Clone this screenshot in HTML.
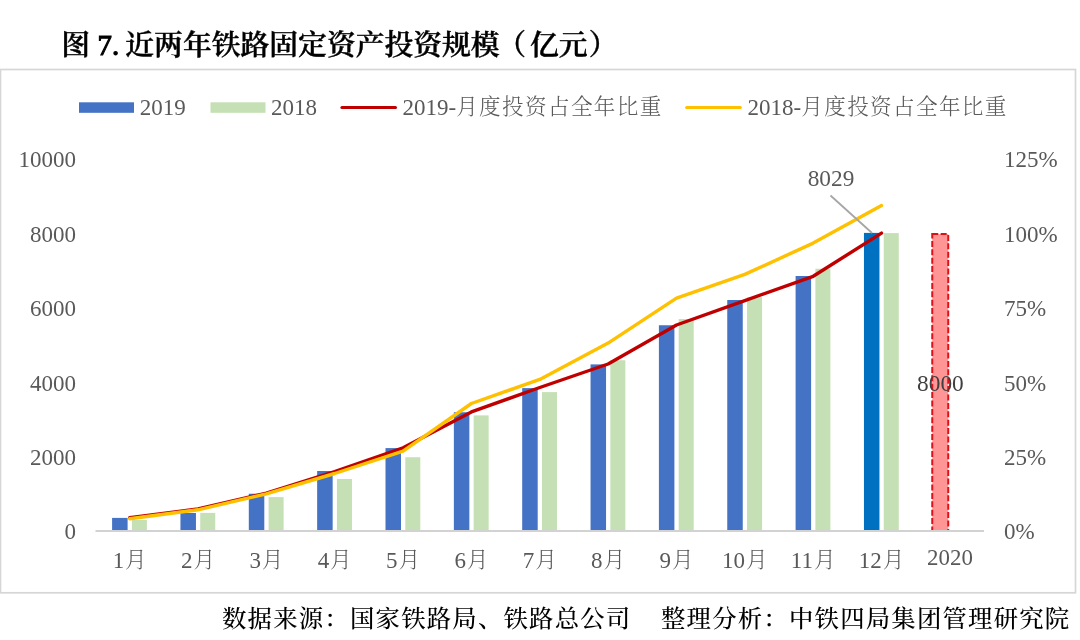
<!DOCTYPE html>
<html lang="zh-CN"><head><meta charset="utf-8"><title>图 7. 近两年铁路固定资产投资规模（亿元）</title>
<style>html,body{margin:0;padding:0;background:#fff}body{width:1080px;height:640px;overflow:hidden}svg{display:block}tspan.d,text.d{font-size:23px}tspan.c{font-size:21.6px;font-weight:300}text{font-family:"Liberation Serif","Noto Serif CJK SC",serif}</style></head><body>
<svg width="1080" height="640" viewBox="0 0 1080 640">
<rect width="1080" height="640" fill="#fff"/>
<g font-size="28.8" font-weight="600" fill="#000" stroke="#000" stroke-width="0.4">
<text x="61.2" y="55">图</text><text x="97.6" y="55" font-weight="400" stroke-width="1.1">7.</text><text x="125.3" y="55">近两年铁路固定资产投资规模<tspan dx="-2.5">（</tspan><tspan dx="4">亿元</tspan><tspan dx="1.1">）</tspan></text></g>
<rect x="0.5" y="69.5" width="1075" height="523.3" fill="#fff" stroke="#D6D6D6" stroke-width="1.7"/>
<rect x="79" y="102.3" width="55" height="10.5" fill="#4472C4"/>
<rect x="210.5" y="102.3" width="55" height="10.5" fill="#C5E0B4"/>
<line x1="341.9" y1="107.4" x2="395.5" y2="107.4" stroke="#C00000" stroke-width="3" stroke-linecap="round"/>
<line x1="686.6" y1="107.4" x2="740.3" y2="107.4" stroke="#FFC000" stroke-width="3" stroke-linecap="round"/>
<g font-size="22.4" fill="#595959">
<text class="d" x="139.8" y="114.9">2019</text><text class="d" x="271.1" y="114.9">2018</text>
<text x="402.5" y="114.9"><tspan class="d">2019-</tspan><tspan class="c" letter-spacing="1.35" dy="-0.5">月度投资占全年比重</tspan></text><text x="747.6" y="114.9"><tspan class="d">2018-</tspan><tspan class="c" letter-spacing="1.35" dy="-0.5">月度投资占全年比重</tspan></text>
<text class="d" x="76" y="539.3" text-anchor="end">0</text>
<text class="d" x="76" y="464.9" text-anchor="end">2000</text>
<text class="d" x="76" y="390.5" text-anchor="end">4000</text>
<text class="d" x="76" y="316.1" text-anchor="end">6000</text>
<text class="d" x="76" y="241.7" text-anchor="end">8000</text>
<text class="d" x="76" y="167.3" text-anchor="end">10000</text>
<text class="d" x="1004" y="539.3">0%</text>
<text class="d" x="1004" y="464.9">25%</text>
<text class="d" x="1004" y="390.5">50%</text>
<text class="d" x="1004" y="316.1">75%</text>
<text class="d" x="1004" y="241.7">100%</text>
<text class="d" x="1004" y="167.3">125%</text>
<text x="129.7" y="567.5" text-anchor="middle"><tspan class="d">1</tspan><tspan class="c" dx="0.9" dy="-0.6">月</tspan></text>
<text x="198.0" y="567.5" text-anchor="middle"><tspan class="d">2</tspan><tspan class="c" dx="0.9" dy="-0.6">月</tspan></text>
<text x="266.4" y="567.5" text-anchor="middle"><tspan class="d">3</tspan><tspan class="c" dx="0.9" dy="-0.6">月</tspan></text>
<text x="334.7" y="567.5" text-anchor="middle"><tspan class="d">4</tspan><tspan class="c" dx="0.9" dy="-0.6">月</tspan></text>
<text x="403.1" y="567.5" text-anchor="middle"><tspan class="d">5</tspan><tspan class="c" dx="0.9" dy="-0.6">月</tspan></text>
<text x="471.4" y="567.5" text-anchor="middle"><tspan class="d">6</tspan><tspan class="c" dx="0.9" dy="-0.6">月</tspan></text>
<text x="539.8" y="567.5" text-anchor="middle"><tspan class="d">7</tspan><tspan class="c" dx="0.9" dy="-0.6">月</tspan></text>
<text x="608.1" y="567.5" text-anchor="middle"><tspan class="d">8</tspan><tspan class="c" dx="0.9" dy="-0.6">月</tspan></text>
<text x="676.5" y="567.5" text-anchor="middle"><tspan class="d">9</tspan><tspan class="c" dx="0.9" dy="-0.6">月</tspan></text>
<text x="744.8" y="567.5" text-anchor="middle"><tspan class="d">10</tspan><tspan class="c" dx="0.9" dy="-0.6">月</tspan></text>
<text x="813.2" y="567.5" text-anchor="middle"><tspan class="d">11</tspan><tspan class="c" dx="0.9" dy="-0.6">月</tspan></text>
<text x="881.5" y="567.5" text-anchor="middle"><tspan class="d">12</tspan><tspan class="c" dx="0.9" dy="-0.6">月</tspan></text>
<text x="950" y="565.1" text-anchor="middle" font-size="22.9">2020</text>
</g>
<rect x="112.10" y="517.90" width="15.5" height="12.10" fill="#4472C4"/>
<rect x="131.90" y="520.00" width="15" height="10.00" fill="#C5E0B4"/>
<rect x="180.45" y="513.00" width="15.5" height="17.00" fill="#4472C4"/>
<rect x="200.25" y="512.90" width="15" height="17.10" fill="#C5E0B4"/>
<rect x="248.80" y="493.75" width="15.5" height="36.25" fill="#4472C4"/>
<rect x="268.60" y="497.10" width="15" height="32.90" fill="#C5E0B4"/>
<rect x="317.15" y="471.00" width="15.5" height="59.00" fill="#4472C4"/>
<rect x="336.95" y="479.00" width="15" height="51.00" fill="#C5E0B4"/>
<rect x="385.50" y="448.10" width="15.5" height="81.90" fill="#4472C4"/>
<rect x="405.30" y="457.25" width="15" height="72.75" fill="#C5E0B4"/>
<rect x="453.85" y="412.25" width="15.5" height="117.75" fill="#4472C4"/>
<rect x="473.65" y="415.40" width="15" height="114.60" fill="#C5E0B4"/>
<rect x="522.20" y="388.10" width="15.5" height="141.90" fill="#4472C4"/>
<rect x="542.00" y="392.10" width="15" height="137.90" fill="#C5E0B4"/>
<rect x="590.55" y="364.40" width="15.5" height="165.60" fill="#4472C4"/>
<rect x="610.35" y="360.25" width="15" height="169.75" fill="#C5E0B4"/>
<rect x="658.90" y="325.25" width="15.5" height="204.75" fill="#4472C4"/>
<rect x="678.70" y="319.00" width="15" height="211.00" fill="#C5E0B4"/>
<rect x="727.25" y="300.00" width="15.5" height="230.00" fill="#4472C4"/>
<rect x="747.05" y="297.25" width="15" height="232.75" fill="#C5E0B4"/>
<rect x="795.60" y="276.00" width="15.5" height="254.00" fill="#4472C4"/>
<rect x="815.40" y="268.75" width="15" height="261.25" fill="#C5E0B4"/>
<rect x="863.95" y="232.90" width="15.5" height="297.10" fill="#0070C0"/>
<rect x="883.75" y="233.10" width="15" height="296.90" fill="#C5E0B4"/>
<rect x="932.25" y="234.1" width="16" height="297" fill="#FF9595" stroke="#E01018" stroke-width="2" stroke-dasharray="6 2.4"/>
<line x1="95.5" y1="531" x2="984" y2="531" stroke="#D2D2D2" stroke-width="2"/>
<polyline points="129.7,517.6 198.0,509.0 266.4,493.2 334.7,471.5 403.1,447.8 471.4,411.9 539.8,387.5 608.1,364.0 676.5,325.0 744.8,300.6 813.2,276.3 881.5,233.1" fill="none" stroke="#C00000" stroke-width="3.4" stroke-linecap="round" stroke-linejoin="round"/>
<polyline points="129.7,518.8 198.0,509.8 266.4,493.8 334.7,473.5 403.1,451.2 471.4,403.5 539.8,379.4 608.1,343.1 676.5,298.1 744.8,274.4 813.2,243.1 881.5,205.6" fill="none" stroke="#FFC000" stroke-width="3.4" stroke-linecap="round" stroke-linejoin="round"/>
<line x1="830.5" y1="195.5" x2="872" y2="233" stroke="#A6A6A6" stroke-width="1.8"/>
<text x="831" y="186.3" text-anchor="middle" font-size="23.3" fill="#595959">8029</text>
<text x="940.4" y="390.6" text-anchor="middle" font-size="23.3" fill="#404040">8000</text>
<g font-size="24.4" font-weight="500" letter-spacing="1.2" fill="#000"><text x="222" y="626.6">数据来源：国家铁路局、铁路总公司</text><text x="661" y="626.6">整理分析：中铁四局集团管理研究院</text></g>
</svg></body></html>
